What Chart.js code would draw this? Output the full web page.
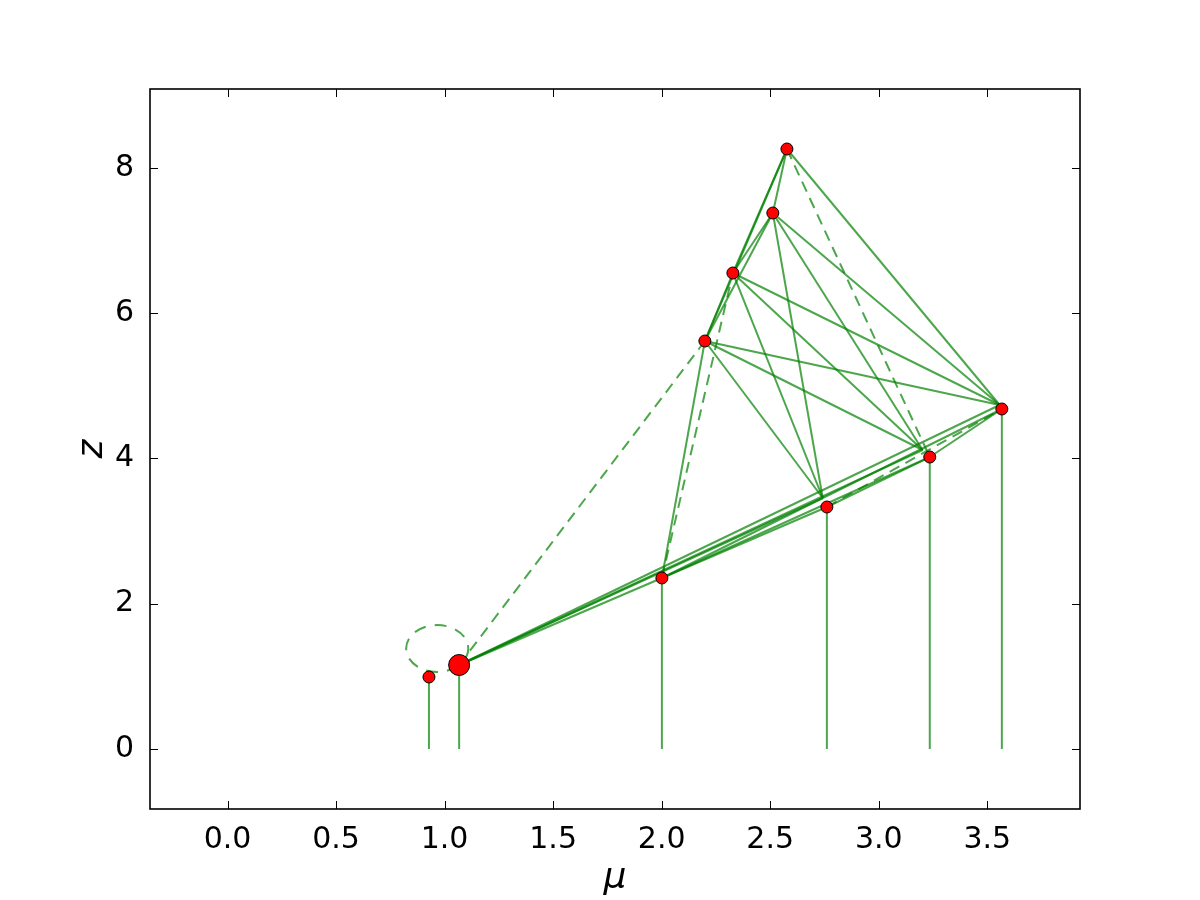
<!DOCTYPE html>
<html>
<head>
<title>mu z graph</title>
<script src="https://cdn.jsdelivr.net/npm/chart.js"></script>
<style>
  body { margin: 0; background: #ffffff; }
</style>
</head>
<body>
<canvas id="myChart" width="1200" height="900"></canvas>
<script>
// node positions (mu, z)
const nodeMu = [0.928, 1.067, 2.001, 2.761, 3.235, 3.567, 2.199, 2.328, 2.512, 2.577];
const nodeZ  = [0.991, 1.156, 2.354, 3.331, 4.019, 4.680, 5.616, 6.552, 7.378, 8.259];
const bigNode = 1;

// nodes that get a vertical stem down to z = 0
const stemNodes = [0, 1, 2, 3, 4, 5];

// edges as [mu1, z1, mu2, z2]
const solidEdges = [
  [1.067, 1.156, 2.001, 2.354],
  [1.067, 1.156, 2.742, 3.455],
  [1.067, 1.156, 3.202, 4.116],
  [1.067, 1.156, 3.557, 4.735],
  [2.001, 2.354, 2.761, 3.331],
  [2.001, 2.354, 3.235, 4.019],
  [2.001, 2.354, 3.567, 4.680],
  [2.761, 3.331, 3.235, 4.019],
  [3.235, 4.019, 3.567, 4.680],
  [2.001, 2.354, 2.199, 5.616],
  [2.199, 5.616, 2.328, 6.552],
  [2.199, 5.616, 2.512, 7.378],
  [2.199, 5.616, 2.577, 8.259],
  [2.328, 6.552, 2.512, 7.378],
  [2.328, 6.552, 2.577, 8.259],
  [2.512, 7.378, 2.577, 8.259],
  [2.199, 5.616, 2.742, 3.455],
  [2.199, 5.616, 3.202, 4.116],
  [2.199, 5.616, 3.557, 4.735],
  [2.328, 6.552, 2.742, 3.455],
  [2.328, 6.552, 3.202, 4.116],
  [2.328, 6.552, 3.557, 4.735],
  [2.512, 7.378, 2.742, 3.455],
  [2.512, 7.378, 3.202, 4.116],
  [2.512, 7.378, 3.557, 4.735],
  [2.577, 8.259, 3.557, 4.735]
];
const dashedEdges = [
  [1.067, 1.156, 2.199, 5.616],
  [2.001, 2.354, 2.328, 6.552],
  [2.577, 8.259, 3.235, 4.019],
  [2.761, 3.331, 3.567, 4.680]
];

// dashed loop near the big node: centre and half-axes in data units
const loopMu = 0.966;
const loopZ = 1.383;
const loopHalfMu = 0.143;
const loopHalfZ = 0.323;

const xTicks = [0, 0.5, 1, 1.5, 2, 2.5, 3, 3.5];
const yTicks = [0, 2, 4, 6, 8];

const green = 'rgba(0, 128, 0, 0.7)';
const dash = [11, 7];

const datasets = [];
datasets.push({
  data: nodeMu.map((m, i) => ({x: m, y: nodeZ[i]})),
  showLine: false,
  pointRadius: c => c.dataIndex === bigNode ? 10.5 : 6,
  pointBackgroundColor: '#ff0000',
  pointBorderColor: '#000000',
  pointBorderWidth: 1,
  order: 0
});
stemNodes.forEach(i => {
  datasets.push({
    data: [{x: nodeMu[i], y: 0}, {x: nodeMu[i], y: nodeZ[i]}],
    showLine: true, pointRadius: 0, borderColor: green, borderWidth: 2, order: 1
  });
});
solidEdges.forEach(e => {
  datasets.push({
    data: [{x: e[0], y: e[1]}, {x: e[2], y: e[3]}],
    showLine: true, pointRadius: 0, borderColor: green, borderWidth: 2, order: 1
  });
});
dashedEdges.forEach(e => {
  datasets.push({
    data: [{x: e[0], y: e[1]}, {x: e[2], y: e[3]}],
    showLine: true, pointRadius: 0, borderColor: green, borderWidth: 2, borderDash: dash, order: 1
  });
});

const loopPlugin = {
  id: 'loop',
  beforeDatasetsDraw(chart) {
    const {ctx, scales: {x, y}} = chart;
    const cx = x.getPixelForValue(loopMu);
    const cy = y.getPixelForValue(loopZ);
    const rx = x.getPixelForValue(loopMu + loopHalfMu) - cx;
    const ry = cy - y.getPixelForValue(loopZ + loopHalfZ);
    ctx.save();
    ctx.strokeStyle = green;
    ctx.lineWidth = 2;
    ctx.setLineDash([12, 9]);
    ctx.beginPath();
    ctx.ellipse(cx, cy, rx, ry, 0, 0, 2 * Math.PI);
    ctx.stroke();
    ctx.restore();
  }
};

// matplotlib style box with inward ticks on all four sides
const framePlugin = {
  id: 'frame',
  afterDraw(chart) {
    const {ctx, chartArea: a, scales: {x, y}} = chart;
    ctx.save();
    ctx.strokeStyle = '#000000';
    ctx.lineWidth = 1;
    ctx.beginPath();
    xTicks.forEach(v => {
      const px = Math.round(x.getPixelForValue(v)) + 0.5;
      ctx.moveTo(px, a.bottom); ctx.lineTo(px, a.bottom - 8);
      ctx.moveTo(px, a.top); ctx.lineTo(px, a.top + 8);
    });
    yTicks.forEach(v => {
      const py = Math.round(y.getPixelForValue(v)) + 0.5;
      ctx.moveTo(a.left, py); ctx.lineTo(a.left + 8, py);
      ctx.moveTo(a.right, py); ctx.lineTo(a.right - 8, py);
    });
    ctx.stroke();
    ctx.lineWidth = 1.6;
    ctx.strokeRect(a.left, a.top, a.right - a.left, a.bottom - a.top);
    ctx.restore();
  }
};

new Chart(document.getElementById('myChart'), {
  type: 'scatter',
  data: { datasets: datasets },
  options: {
    responsive: false,
    animation: false,
    events: [],
    layout: { padding: { top: 89, right: 120, left: 0, bottom: 0 } },
    plugins: { legend: { display: false }, tooltip: { enabled: false } },
    scales: {
      x: {
        type: 'linear',
        min: -0.357,
        max: 3.927,
        afterBuildTicks: s => { s.ticks = xTicks.map(v => ({value: v})); },
        afterFit: s => { s.height = 91; },
        grid: { display: false },
        border: { display: false },
        ticks: {
          color: '#000000',
          padding: 5,
          font: { family: 'DejaVu Sans', size: 30 },
          callback: v => Number(v).toFixed(1)
        },
        title: {
          display: true,
          text: 'μ',
          color: '#000000',
          padding: { top: 0, bottom: 0 },
          font: { family: 'DejaVu Sans', size: 36, style: 'italic' }
        }
      },
      y: {
        type: 'linear',
        min: -0.826,
        max: 9.085,
        afterBuildTicks: s => { s.ticks = yTicks.map(v => ({value: v})); },
        afterFit: s => { s.width = 150; },
        grid: { display: false },
        border: { display: false },
        ticks: {
          color: '#000000',
          padding: 8,
          font: { family: 'DejaVu Sans', size: 30 },
          callback: v => String(v)
        },
        title: {
          display: true,
          text: 'z',
          color: '#000000',
          padding: { top: 71, bottom: 0 },
          font: { family: 'DejaVu Sans', size: 36, style: 'italic' }
        }
      }
    }
  },
  plugins: [loopPlugin, framePlugin]
});
</script>
</body>
</html>
